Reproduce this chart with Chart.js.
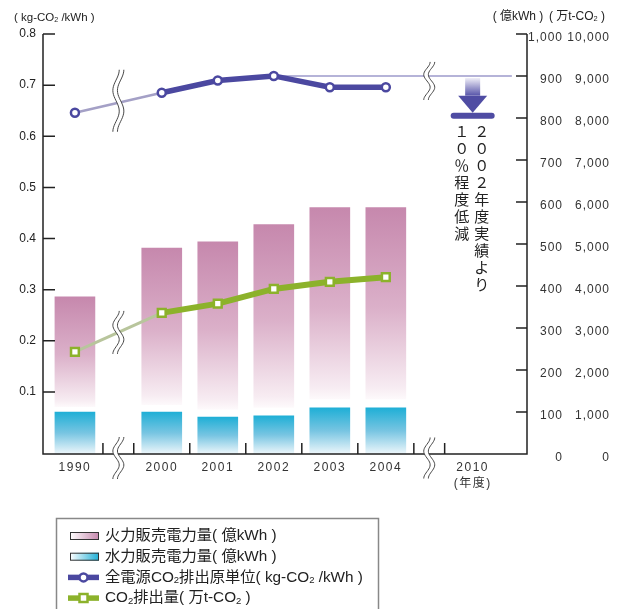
<!DOCTYPE html>
<html lang="ja">
<head>
<meta charset="utf-8">
<title>販売電力量とCO2排出原単位の推移</title>
<script src="https://cdn.jsdelivr.net/npm/chart.js@4.4.1/dist/chart.umd.min.js"></script>
<style>
html, body { margin: 0; padding: 0; background: #fff; }
#box { position: relative; width: 623px; height: 609px; }
</style>
</head>
<body>
<div id="box"><canvas id="chart" width="623" height="609"></canvas></div>
<script>
// 年度（2010年度は目標年度）
const years = ['1990', '2000', '2001', '2002', '2003', '2004', '2010'];
// 火力販売電力量（億kWh）
const thermalSales = [274, 390, 417, 455, 477, 477];
// 水力販売電力量（億kWh）
const hydroSales = [100, 100, 88, 91, 110, 110];
// 全電源CO2排出原単位（kg-CO2/kWh）
const intensity = [0.646, 0.685, 0.709, 0.718, 0.696, 0.696];
// CO2排出量（万t-CO2）
const emissions = [2430, 3360, 3580, 3930, 4100, 4210];
// 2002年度実績からの低減率
const reduction = 0.10;
// 目盛
const intensityTicks = [0.1, 0.2, 0.3, 0.4, 0.5, 0.6, 0.7, 0.8];
const salesTicks = [0, 100, 200, 300, 400, 500, 600, 700, 800, 900, 1000];
const emissionTicks = [0, 1000, 2000, 3000, 4000, 5000, 6000, 7000, 8000, 9000, 10000];

const FONT = '"Liberation Sans", "Noto Sans CJK JP", sans-serif';
const PURPLE = '#4b48a0', PURPLE_LIGHT = '#a4a0c6';
const GREEN = '#8cb22b', GREEN_LIGHT = '#b8c59c';

// 横軸の配置：各年度は1区画、省略箇所（1990→2000, 2004→2010）には狭い隙間を入れる
const SLOT_GAP = 0.55;
const breakAfter = [0, 5];
const xPos = [];
{
  let p = 0.57;
  years.forEach((y, i) => { xPos.push(p); p += 1 + (breakAfter.includes(i) ? SLOT_GAP : 0); });
}
const X_MAX = 8.64;
const baseIdx = years.indexOf('2002');
const targetIdx = years.indexOf('2010');
const pts = vals => vals.map((v, i) => ({ x: xPos[i], y: v }));

function vGradient(chart, yTop, yBottom, stops) {
  const g = chart.ctx.createLinearGradient(0, yTop, 0, yBottom);
  stops.forEach(([o, c]) => g.addColorStop(o, c));
  return g;
}
const thermalStops = [[0, '#c688ad'], [0.5, '#dbb0c9'], [0.9, '#f7ecf2'], [0.955, '#fdf9fb'], [0.96, '#ffffff'], [1, '#ffffff']];
const hydroStops = [[0, '#1fafd6'], [0.5, '#78c5e2'], [1, '#eef7fb']];

function barFill(stops, lowerOf, upperOf, fallback) {
  return c => {
    const s = c.chart.scales.yS;
    if (!s || c.type !== 'data') return fallback;
    const i = c.dataIndex;
    const yTop = s.getPixelForValue(upperOf(i));
    const yBottom = s.getPixelForValue(lowerOf(i));
    if (!isFinite(yTop) || !isFinite(yBottom) || yTop === yBottom) return fallback;
    return vGradient(c.chart, yTop, yBottom, stops);
  };
}

// 文字列中の {2} を下付き文字として描く
function richParts(str) { return str.split(/\{(.*?)\}/).map((t, k) => ({ t, sub: k % 2 === 1 })).filter(p => p.t); }
function richWidth(ctx, parts, size) {
  let w = 0;
  parts.forEach(p => { ctx.font = `${p.sub ? size * 0.62 : size}px ${FONT}`; w += ctx.measureText(p.t).width; });
  return w;
}
function drawRich(ctx, str, x, y, size, align) {
  const parts = richParts(str);
  let cx = x;
  if (align === 'center') cx = x - richWidth(ctx, parts, size) / 2;
  ctx.textAlign = 'left';
  ctx.textBaseline = 'middle';
  parts.forEach(p => {
    const fs = p.sub ? size * 0.62 : size;
    ctx.font = `${fs}px ${FONT}`;
    ctx.fillText(p.t, cx, p.sub ? y + size * 0.2 : y);
    cx += ctx.measureText(p.t).width;
  });
}

function drawBreak(ctx, cx, cy, h) {
  const A = 3.2, d = 4.6, n = 30, top = cy - h / 2;
  const L = [], R = [];
  for (let k = 0; k <= n; k++) {
    const t = k / n;
    const xx = cx + A * Math.cos(3 * Math.PI * t);
    const yy = top + t * h;
    L.push([xx - d / 2, yy]); R.push([xx + d / 2, yy]);
  }
  ctx.fillStyle = '#fff';
  ctx.beginPath();
  L.forEach(([px, py], k) => k ? ctx.lineTo(px, py) : ctx.moveTo(px, py));
  R.slice().reverse().forEach(([px, py]) => ctx.lineTo(px, py));
  ctx.closePath();
  ctx.fill();
  ctx.strokeStyle = '#333';
  ctx.lineWidth = 0.9;
  [L, R].forEach(side => {
    ctx.beginPath();
    side.forEach(([px, py], k) => k ? ctx.lineTo(px, py) : ctx.moveTo(px, py));
    ctx.stroke();
  });
}

function lineYAt(meta, px) {
  const a = meta.data[0], b = meta.data[1];
  return a.y + (b.y - a.y) * (px - a.x) / (b.x - a.x);
}

// 目盛ラベルの字間
const spacedLabels = {
  id: 'spacedLabels',
  afterUpdate(chart) {
    const spacing = { x: '1.5px', yS: '1px', yE: '1px' };
    Object.keys(spacing).forEach(id => {
      const s = chart.scales[id];
      if (!s) return;
      s.drawLabels = function (area) {
        const ctx = this.ctx;
        ctx.save();
        ctx.letterSpacing = spacing[id];
        Object.getPrototypeOf(this).drawLabels.call(this, area);
        ctx.restore();
      };
    });
  }
};

const decor = {
  id: 'decor',
  afterDatasetsDraw(chart) {
    const { ctx, chartArea: a, scales } = chart;
    const { x, yI, yS } = scales;
    ctx.save();

    // 軸線と内向きの目盛
    ctx.strokeStyle = '#222';
    ctx.lineWidth = 1.5;
    ctx.beginPath();
    ctx.moveTo(a.left, a.top); ctx.lineTo(a.left, a.bottom);
    ctx.lineTo(a.right, a.bottom); ctx.lineTo(a.right, a.top);
    ctx.stroke();
    ctx.beginPath();
    intensityTicks.forEach(v => { const y = yI.getPixelForValue(v); ctx.moveTo(a.left, y); ctx.lineTo(a.left + 12, y); });
    salesTicks.filter(v => v > 0).forEach(v => { const y = yS.getPixelForValue(v); ctx.moveTo(a.right, y); ctx.lineTo(a.right - 11, y); });
    const bounds = [];
    xPos.forEach((p, i) => {
      if (i > 0) bounds.push(p - 0.5);
      if (i < xPos.length - 1) bounds.push(p + 0.5);
    });
    bounds.forEach(b => { const px = x.getPixelForValue(b); ctx.moveTo(px, a.bottom); ctx.lineTo(px, a.bottom - 11); });
    ctx.stroke();

    // 2010年度目標：2002年度実績から低減
    const cx = x.getPixelForValue(xPos[targetIdx]);
    const yTop = yI.getPixelForValue(intensity[baseIdx]) + 2;
    const yTip = yI.getPixelForValue(intensity[baseIdx] * (1 - reduction));
    const headH = 17, headW = 29, shaftW = 15;
    ctx.fillStyle = vGradient(chart, yTop, yTip - headH, [[0, '#f0eff8'], [1, '#5754a9']]);
    ctx.fillRect(cx - shaftW / 2, yTop, shaftW, yTip - headH - yTop);
    ctx.fillStyle = '#4f4ca3';
    ctx.beginPath();
    ctx.moveTo(cx - headW / 2, yTip - headH); ctx.lineTo(cx + headW / 2, yTip - headH); ctx.lineTo(cx, yTip);
    ctx.closePath(); ctx.fill();
    ctx.strokeStyle = '#4f4ca3';
    ctx.lineWidth = 6; ctx.lineCap = 'round';
    ctx.beginPath(); ctx.moveTo(cx - 19, yTip + 3); ctx.lineTo(cx + 19, yTip + 3); ctx.stroke();
    ctx.lineCap = 'butt';

    ctx.fillStyle = '#222';
    ctx.font = `15px "Noto Sans CJK JP", sans-serif`;
    ctx.textAlign = 'center';
    ctx.textBaseline = 'middle';
    [...'２００２年度実績より'].forEach((ch, k) => ctx.fillText(ch, cx + 9, yTip + 19 + k * 17));
    [...'１０％程度低減'].forEach((ch, k) => ctx.fillText(ch, cx - 11, yTip + 19 + k * 17));

    // 省略記号
    const b1 = x.getPixelForValue(xPos[0] + 0.5 + SLOT_GAP / 2);
    const b2 = x.getPixelForValue(xPos[5] + 0.5 + SLOT_GAP / 2);
    drawBreak(ctx, b1, lineYAt(chart.getDatasetMeta(0), b1) - 2, 62);
    drawBreak(ctx, b1, lineYAt(chart.getDatasetMeta(1), b1), 43);
    drawBreak(ctx, b1, a.bottom + 4, 42);
    drawBreak(ctx, b2, yI.getPixelForValue(intensity[baseIdx]) + 5, 38);
    drawBreak(ctx, b2, a.bottom + 4, 41);
    ctx.restore();
  },
  afterDraw(chart) {
    const { ctx } = chart;
    ctx.save();
    ctx.fillStyle = '#222';
    // 単位
    drawRich(ctx, '( kg-CO{2} /kWh )', 14, 18, 11.5, 'left');
    drawRich(ctx, '( 億kWh )', 518, 17, 12, 'center');
    drawRich(ctx, '( 万t-CO{2} )', 577, 17, 12, 'center');

    // 凡例
    ctx.strokeStyle = '#888';
    ctx.lineWidth = 1.5;
    ctx.strokeRect(56.5, 518.5, 322, 110);
    const rowY = k => 536 + k * 20.7;
    const swatch = (k, color) => {
      const y = rowY(k);
      const g = ctx.createLinearGradient(70, 0, 99, 0);
      g.addColorStop(0, '#ffffff'); g.addColorStop(1, color);
      ctx.fillStyle = g;
      ctx.fillRect(70, y - 4, 29, 8);
      ctx.strokeStyle = '#333'; ctx.lineWidth = 1;
      ctx.strokeRect(70.5, y - 3.5, 28, 7);
    };
    swatch(0, '#c688ad');
    swatch(1, '#1fafd6');
    const lineKey = (k, color, square) => {
      const y = rowY(k);
      ctx.strokeStyle = color; ctx.lineWidth = 5.5;
      ctx.beginPath(); ctx.moveTo(68, y); ctx.lineTo(99, y); ctx.stroke();
      ctx.fillStyle = '#fff'; ctx.lineWidth = 2.5;
      ctx.beginPath();
      if (square) ctx.rect(79.5, y - 4, 8, 8); else ctx.arc(83.5, y, 4, 0, Math.PI * 2);
      ctx.fill(); ctx.stroke();
    };
    lineKey(2, PURPLE, false);
    lineKey(3, GREEN, true);
    ctx.fillStyle = '#222';
    ['火力販売電力量( 億kWh )', '水力販売電力量( 億kWh )', '全電源CO{2}排出原単位( kg-CO{2} /kWh )', 'CO{2}排出量( 万t-CO{2} )']
      .forEach((t, k) => drawRich(ctx, t, 105, rowY(k), 15.3, 'left'));
    ctx.restore();
  }
};

Chart.defaults.font.family = FONT;
Chart.defaults.color = '#333';

const tickFont = { family: FONT, size: 12, lineHeight: 1.3 };

new Chart(document.getElementById('chart'), {
  data: {
    datasets: [
      {
        type: 'line', label: '全電源CO2排出原単位', yAxisID: 'yI', order: 1,
        data: pts(intensity),
        borderColor: PURPLE, borderWidth: 5.5,
        segment: {
          borderColor: s => s.p0DataIndex === 0 ? PURPLE_LIGHT : PURPLE,
          borderWidth: s => s.p0DataIndex === 0 ? 2.5 : 5.5
        },
        pointStyle: 'circle', pointRadius: 4, pointBorderWidth: 2.5,
        pointBackgroundColor: '#fff', pointBorderColor: PURPLE
      },
      {
        type: 'line', label: 'CO2排出量', yAxisID: 'yE', order: 0,
        data: pts(emissions),
        borderColor: GREEN, borderWidth: 6,
        segment: {
          borderColor: s => s.p0DataIndex === 0 ? GREEN_LIGHT : GREEN,
          borderWidth: s => s.p0DataIndex === 0 ? 3 : 6
        },
        pointStyle: 'rect', pointRadius: 5.5, pointBorderWidth: 2.5,
        pointBackgroundColor: '#fff', pointBorderColor: GREEN
      },
      {
        type: 'line', label: '2002年度実績', yAxisID: 'yI', order: 2,
        data: [{ x: xPos[baseIdx], y: intensity[baseIdx] }, { x: xPos[targetIdx] + 0.7, y: intensity[baseIdx] }],
        borderColor: '#9d9acb', borderWidth: 1.5, pointRadius: 0
      },
      {
        type: 'bar', label: '水力販売電力量', yAxisID: 'yS', stack: 'sales', order: 3,
        data: pts(hydroSales), barThickness: 40,
        backgroundColor: barFill(hydroStops, () => 0, i => hydroSales[i], '#5fbde0')
      },
      {
        type: 'bar', label: '火力販売電力量', yAxisID: 'yS', stack: 'sales', order: 4,
        data: pts(thermalSales), barThickness: 40,
        backgroundColor: barFill(thermalStops, i => hydroSales[i], i => hydroSales[i] + thermalSales[i], '#d9a9c4')
      }
    ]
  },
  options: {
    responsive: false,
    animation: false,
    devicePixelRatio: 1,
    layout: { padding: { top: 34, right: 13, bottom: 0, left: 0 } },
    plugins: { legend: { display: false }, tooltip: { enabled: false } },
    scales: {
      x: {
        type: 'linear', min: 0, max: X_MAX, stacked: true, offset: false,
        grid: { display: false, drawTicks: false, offset: false }, border: { display: false },
        afterBuildTicks: s => { s.ticks = xPos.map(v => ({ value: v })); },
        afterFit: s => { s.height = 155; },
        ticks: {
          autoSkip: false, maxRotation: 0, minRotation: 0, padding: 6, color: '#333', font: tickFont,
          callback: (v, i) => i === targetIdx ? [years[i], '(年度)'] : years[i]
        }
      },
      yI: {
        type: 'linear', position: 'left', min: -0.0215, max: 0.8,
        grid: { display: false, drawTicks: false }, border: { display: false },
        afterBuildTicks: s => { s.ticks = intensityTicks.map(v => ({ value: v })); },
        afterFit: s => { s.width = 43; },
        ticks: { padding: 7, color: '#222', font: tickFont, callback: v => v.toFixed(1) }
      },
      yS: {
        type: 'linear', position: 'right', weight: 0, min: 0, max: 1000, stacked: true,
        grid: { display: false, drawTicks: false }, border: { display: false },
        afterBuildTicks: s => { s.ticks = salesTicks.map(v => ({ value: v })); },
        afterFit: s => { s.width = 36; },
        ticks: { padding: 3, crossAlign: 'far', labelOffset: 4, color: '#333', font: tickFont, callback: v => v.toLocaleString('en-US') }
      },
      yE: {
        type: 'linear', position: 'right', weight: 1, min: 0, max: 10000,
        grid: { display: false, drawTicks: false }, border: { display: false },
        afterBuildTicks: s => { s.ticks = emissionTicks.map(v => ({ value: v })); },
        afterFit: s => { s.width = 47; },
        ticks: { padding: 7, crossAlign: 'far', labelOffset: 4, color: '#333', font: tickFont, callback: v => v.toLocaleString('en-US') }
      }
    }
  },
  plugins: [spacedLabels, decor]
});
</script>
</body>
</html>
